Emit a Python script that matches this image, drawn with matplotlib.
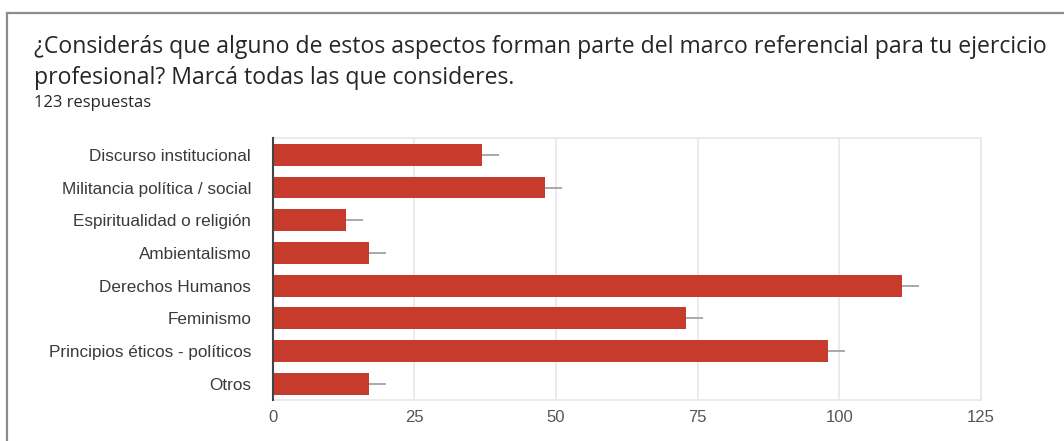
import matplotlib
matplotlib.use("Agg")
import matplotlib.pyplot as plt
from matplotlib.lines import Line2D

# data
categories = [
    "Discurso institucional",
    "Militancia política / social",
    "Espiritualidad o religión",
    "Ambientalismo",
    "Derechos Humanos",
    "Feminismo",
    "Principios éticos - políticos",
    "Otros",
]
counts = [37, 48, 13, 17, 111, 73, 98, 17]
spread = [3, 3, 3, 3, 3, 3, 3, 3]
xticks = [0, 25, 50, 75, 100, 125]

title_1 = "¿Considerás que alguno de estos aspectos forman parte del marco referencial para tu ejercicio"
title_2 = "profesional? Marcá todas las que consideres."
subtitle = "123 respuestas"

bar_color = "#c63b2b"

fig = plt.figure(figsize=(10.64, 4.41), dpi=100)
fig.patch.set_facecolor("white")

# card border (top and left edges)
fig.add_artist(Line2D([0.0068, 1.0], [0.9705, 0.9705], transform=fig.transFigure, color="#8c8c8c", lw=1.6))
fig.add_artist(Line2D([0.0068, 0.0068], [0.0, 0.9705], transform=fig.transFigure, color="#8c8c8c", lw=1.6))

fig.text(0.032, 0.893, title_1, fontsize=16.6, family="Open Sans", color="#262626", va="center")
fig.text(0.032, 0.823, title_2, fontsize=16.6, family="Open Sans", color="#262626", va="center")
fig.text(0.032, 0.766, subtitle, fontsize=12, family="Open Sans", color="#262626", va="center")

ax = fig.add_axes([0.2563, 0.093, 0.6657, 0.593])
ypos = list(range(len(categories)))
ax.barh(ypos, counts, height=0.67, color=bar_color, zorder=3,
        xerr=spread, error_kw=dict(ecolor="#a3a3a3", elinewidth=1.3, capsize=0, zorder=2))

ax.set_xlim(0, 125)
ax.set_ylim(len(categories) - 0.5, -0.5)
ax.set_xticks(xticks)
ax.set_yticks(ypos)
ax.set_yticklabels(categories, family="Liberation Sans", fontsize=12.3, color="#3a3a3a")
ax.set_xticklabels([str(t) for t in xticks], family="Liberation Sans", fontsize=12, color="#555555")
ax.tick_params(axis="y", length=0, pad=15.5)
ax.tick_params(axis="x", length=0, pad=7.5)

ax.grid(axis="x", color="#e8e8e8", lw=1.2, zorder=0)
for side in ["top", "right", "bottom"]:
    ax.spines[side].set_color("#e8e8e8")
    ax.spines[side].set_linewidth(1.2)
ax.spines["left"].set_color("#444444")
ax.spines["left"].set_linewidth(1.5)
ax.spines["left"].set_zorder(4)

fig.savefig("out.png", dpi=100)
